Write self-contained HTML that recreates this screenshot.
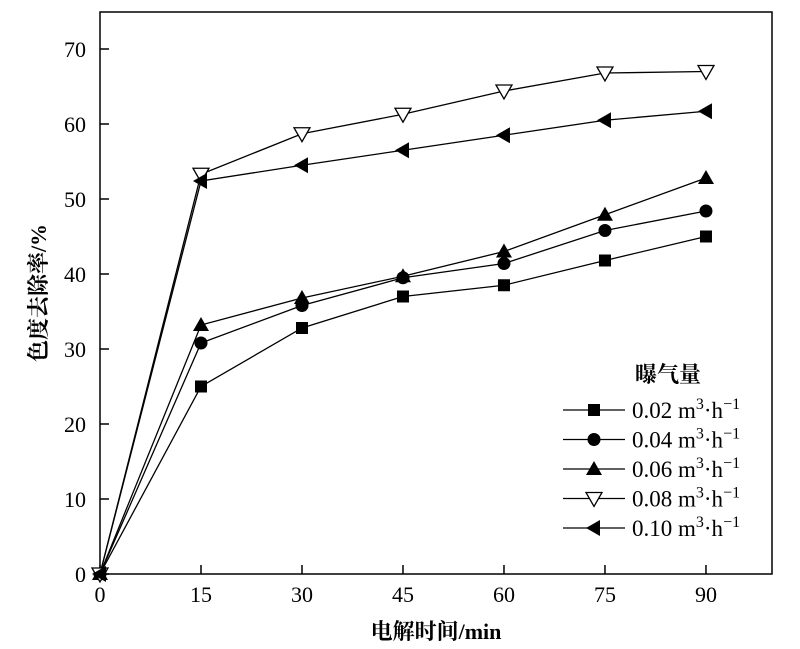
<!DOCTYPE html>
<html><head><meta charset="utf-8"><style>
html,body{margin:0;padding:0;background:#fff;}
svg{display:block;font-family:"Liberation Serif","Noto Serif CJK SC",serif;}
</style></head><body>
<svg id="s" width="800" height="649" viewBox="0 0 800 649" xmlns="http://www.w3.org/2000/svg">
<rect x="100" y="12" width="672" height="562" fill="none" stroke="#000" stroke-width="1.5"/>
<g id="ticks" stroke="#000" stroke-width="1.5"></g>
<g id="labels" font-size="22" fill="#000"></g>
<g id="series"></g>
<text x="436" y="639" font-size="22" font-weight="bold" text-anchor="middle">电解时间/min</text>
<text transform="translate(46,293) rotate(-90)" font-size="22" font-weight="bold" text-anchor="middle">色度去除率/%</text>
<text x="668" y="382" font-size="22" font-weight="bold" text-anchor="middle">曝气量</text>
<g id="legend" font-size="23"></g>
</svg>
<script>
var NS="http://www.w3.org/2000/svg";
function el(t,a,p){var e=document.createElementNS(NS,t);for(var k in a)e.setAttribute(k,a[k]);document.getElementById(p).appendChild(e);return e;}
function X(t){return 100+t*6.733;}function Y(v){return 574-v*7.5;}
for(var i=0;i<=6;i++){var t=i*15;el('line',{x1:X(t),y1:574,x2:X(t),y2:565},'ticks');var tx=el('text',{x:X(t),y:602,'text-anchor':'middle'},'labels');tx.textContent=t;}
for(var v=0;v<=70;v+=10){el('line',{x1:100,y1:Y(v),x2:109,y2:Y(v)},'ticks');var ty=el('text',{x:86,y:Y(v)+8,'text-anchor':'end'},'labels');ty.textContent=v;}
var T=[0,15,30,45,60,75,90];
var D=[[0,25,32.8,37,38.5,41.8,45],[0,30.8,35.8,39.5,41.4,45.8,48.4],[0,33.2,36.8,39.7,43,47.9,52.8],[0,53.3,58.7,61.3,64.4,66.8,67],[0,52.4,54.5,56.5,58.5,60.5,61.7]];
function mk(k,x,y,g){
 if(k==0)el('rect',{x:x-6,y:y-6,width:12,height:12,fill:'#000'},g);
 else if(k==1)el('circle',{cx:x,cy:y,r:6.5,fill:'#000'},g);
 else if(k==2)el('polygon',{points:(x-8)+','+(y+6)+' '+(x+8)+','+(y+6)+' '+x+','+(y-8),fill:'#000'},g);
 else if(k==3)el('polygon',{points:(x-8)+','+(y-6)+' '+(x+8)+','+(y-6)+' '+x+','+(y+8),fill:'#fff',stroke:'#000','stroke-width':1.3},g);
 else el('polygon',{points:(x+6)+','+(y-8)+' '+(x+6)+','+(y+8)+' '+(x-8)+','+y,fill:'#000'},g);
}
for(var k=0;k<5;k++){var p=D[k].map(function(v,i){return X(T[i])+','+Y(v);}).join(' ');
 el('polyline',{points:p,fill:'none',stroke:'#000','stroke-width':1.3},'series');}
for(var k=0;k<5;k++)for(var i=0;i<7;i++)mk(k,X(T[i]),Y(D[k][i]),'series');
var names=['0.02','0.04','0.06','0.08','0.10'];
for(var k=0;k<5;k++){var y=410+k*29.5;
 el('line',{x1:563,y1:y,x2:625,y2:y,stroke:'#000','stroke-width':1.3},'legend');mk(k,594,y,'legend');
 var t=el('text',{x:632,y:y+8},'legend');
 t.innerHTML=names[k]+' m<tspan dy="-9" font-size="16">3</tspan><tspan dy="9">·h</tspan><tspan dy="-9" font-size="16">−1</tspan>';}
</script>
</body></html>
